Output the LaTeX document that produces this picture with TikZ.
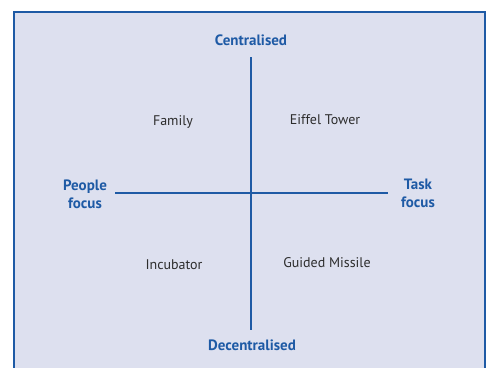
\documentclass[tikz,border=0pt]{standalone}
\usepackage{fontspec}
\setmainfont{PT Sans}
\definecolor{axisblue}{RGB}{30,90,165}
\definecolor{panel}{RGB}{221,224,239}
\definecolor{txtgray}{RGB}{45,45,45}
\tikzset{
  axis/.style={draw=axisblue, line width=2.8pt},
  pole/.style={text=axisblue, font=\fontsize{15}{18}\selectfont\bfseries, align=center},
  quad/.style={text=txtgray, font=\fontsize{14}{16}\selectfont}
}
\begin{document}
\begin{tikzpicture}[x=1pt,y=-1pt]
\useasboundingbox (0,0) rectangle (487,367);
% the panel
\fill[panel, draw=axisblue, line width=1.4pt] (14,12) rectangle (485,390);

% the axes
\coordinate (top) at (251,57);
\coordinate (bottom) at (251,330);
\coordinate (left) at (115,193);
\coordinate (right) at (388,193);
\draw[axis] (top) -- (bottom);
\draw[axis] (left) -- (right);

% the poles
\node[pole] (central) at (251,40) {Centralised};
\node[pole] (decentral) at (252,345) {Decentralised};
\node[pole] (people) at (85,194) {People\\focus};
\node[pole] (task) at (418,193) {Task\\focus};

% the quadrants
\node[quad] (family) at (173,122) {Family};
\node[quad] (eiffel) at (325,120) {Eiffel Tower};
\node[quad] (incubator) at (174,265) {Incubator};
\node[quad] (missile) at (327,263) {Guided Missile};
\end{tikzpicture}
\end{document}
